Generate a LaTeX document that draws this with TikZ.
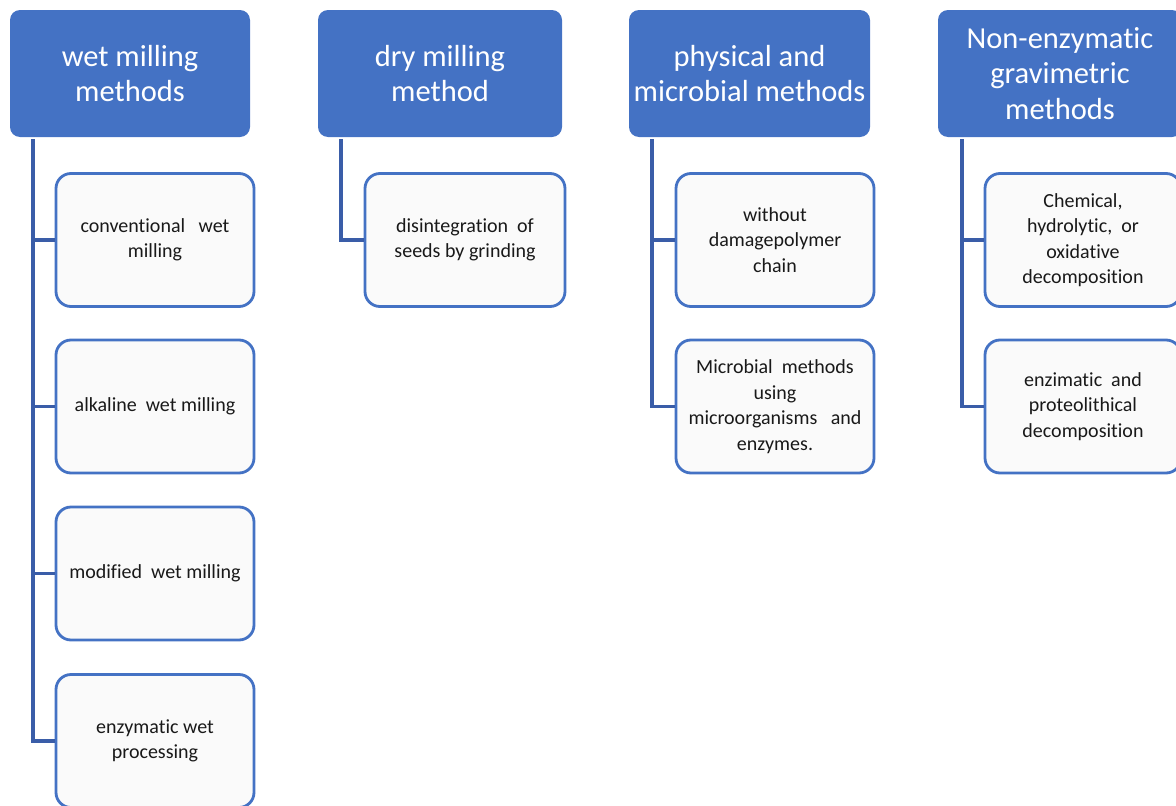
\documentclass[tikz,border=0pt]{standalone}
\usepackage{fontspec}
\setmainfont{Carlito}[Ligatures=NoCommon]
\definecolor{hdr}{HTML}{4472C4}
\definecolor{lnk}{HTML}{3A5DA8}
\definecolor{bfill}{HTML}{FAFAFA}
\begin{document}
\begin{tikzpicture}[x=1pt,y=-1pt,
  head/.style={draw=none,fill=hdr,rounded corners=10pt,text=white,align=center,
    font=\fontsize{30.5}{35.5}\selectfont,inner sep=0pt},
  child/.style={draw=hdr,line width=2.8pt,fill=bfill,rounded corners=15pt,align=center,
    font=\fontsize{20}{25.5}\selectfont,inner sep=0pt,text=black!90},
  link/.style={draw=lnk,line width=3.2pt}]
\useasboundingbox (0,0) rectangle (1176,806);
\clip (0,0) rectangle (1176,806);
% headers
\node[head,minimum width=240pt,minimum height=127pt] (h1) at (130,73.5) {wet milling\\methods};
\node[head,minimum width=244pt,minimum height=127pt] (h2) at (440,73.5) {dry milling\\method};
\node[head,minimum width=241pt,minimum height=127pt] (h3) at (749.5,73.5) {physical and\\microbial methods};
\node[head,minimum width=244pt,minimum height=127pt] (h4) at (1060,73.5) {Non-enzymatic\\gravimetric\\methods};
% children
\node[child,minimum width=198pt,minimum height=133pt] (c11) at (155,240) {conventional\ \ \ wet\\milling};
\node[child,minimum width=198pt,minimum height=133pt] (c12) at (155,406.5) {alkaline\ \ wet milling};
\node[child,minimum width=198pt,minimum height=133pt] (c13) at (155,573.5) {modified\ \ wet milling};
\node[child,minimum width=198pt,minimum height=133pt] (c14) at (155,741) {enzymatic wet\\processing};
\node[child,minimum width=200pt,minimum height=133pt] (c21) at (465,240) {disintegration\ \ of\\seeds by grinding};
\node[child,minimum width=198pt,minimum height=133pt] (c31) at (775,240) {without\\damagepolymer\\chain};
\node[child,minimum width=198pt,minimum height=133pt] (c32) at (775,406.5) {Microbial\ \ methods\\using\\microorganisms\ \ \ and\\enzymes.};
\node[child,minimum width=196pt,minimum height=133pt] (c41) at (1083,240) {Chemical,\\hydrolytic,\ \ or\\oxidative\\decomposition};
\node[child,minimum width=196pt,minimum height=133pt] (c42) at (1083,406.5) {enzimatic\ \ and\\proteolithical\\decomposition};
% connectors
\coordinate (t1) at (33,139);
\coordinate (t2) at (341,139);
\coordinate (t3) at (652,139);
\coordinate (t4) at (962,139);
\draw[link] (t1) |- (c11.west);
\draw[link] (t1) |- (c12.west);
\draw[link] (t1) |- (c13.west);
\draw[link] (t1) |- (c14.west);
\draw[link] (t2) |- (c21.west);
\draw[link] (t3) |- (c31.west);
\draw[link] (t3) |- (c32.west);
\draw[link] (t4) |- (c41.west);
\draw[link] (t4) |- (c42.west);
\end{tikzpicture}
\end{document}
